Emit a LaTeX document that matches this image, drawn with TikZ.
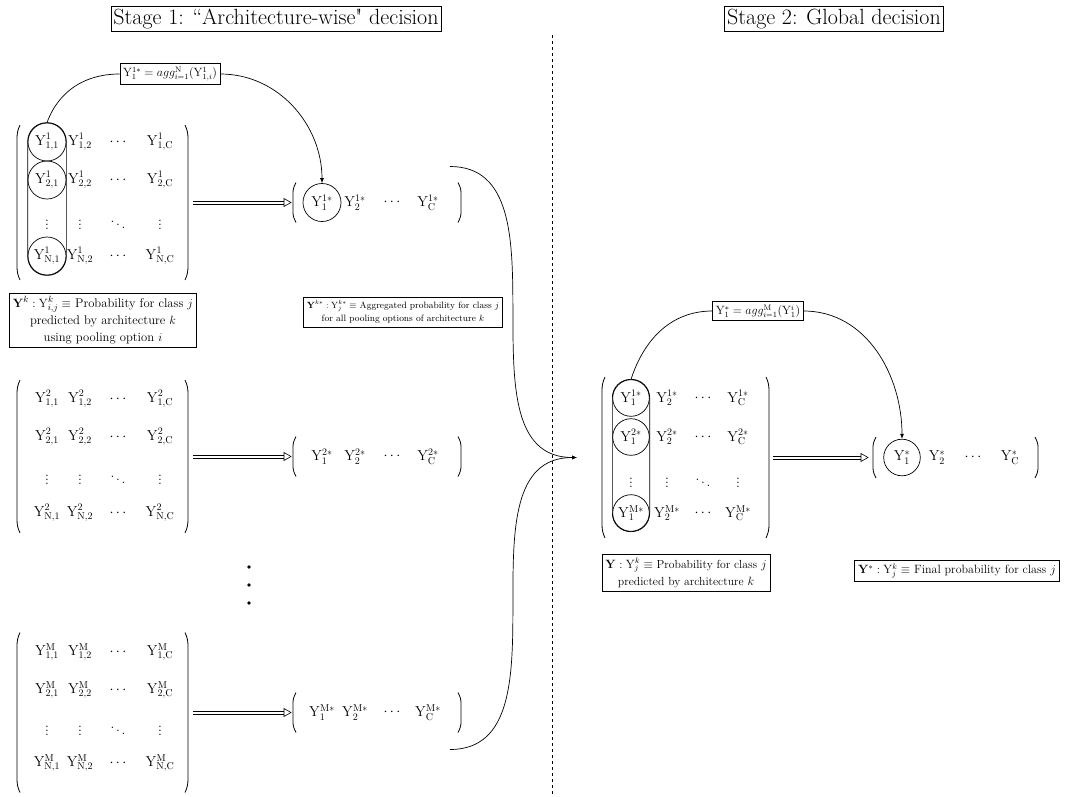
\documentclass[tikz,border=0pt]{standalone}
\usetikzlibrary{arrows.meta,calc}
\newcommand\Ym{\mathrm{Y}}
\tikzset{
  ent/.style={inner sep=0pt, font=\fontsize{14}{16}\selectfont},
  circ/.style={circle, draw, line width=0.7pt, minimum size=38pt, inner sep=0pt},
  plain/.style={},
  paren/.style={line width=0.8pt},
  capsule/.style={line width=0.7pt, rounded corners=18.9pt},
  title/.style={draw, line width=0.7pt, inner sep=2.5pt, font=\fontsize{22}{24}\selectfont},
  desc/.style={draw, line width=0.7pt, align=center, inner sep=3.5pt},
  agg/.style={draw, line width=0.7pt, fill=white, inner sep=3pt, font=\fontsize{12}{14}\selectfont},
  conn/.style={line width=0.7pt},
  tip/.style={-{Latex[length=5pt,width=4pt]}},
  dblline/.style={line width=0.6pt},
  dbltip/.style={line width=0.6pt, line join=miter, fill=white},
  dotn/.style={circle, fill, inner sep=0pt, minimum size=3.6pt},
}
% frame corners: #1 name, #2 cx, #3 cy (down), #4 w, #5 h
\newcommand\frm[5]{%
  \coordinate (#1-nw) at ({#2-#4/2},{-#3+#5/2});
  \coordinate (#1-ne) at ({#2+#4/2},{-#3+#5/2});
  \coordinate (#1-sw) at ({#2-#4/2},{-#3-#5/2});
  \coordinate (#1-se) at ({#2+#4/2},{-#3-#5/2});
  \coordinate (#1-w) at ({#2-#4/2},{-#3});
  \coordinate (#1-e) at ({#2+#4/2},{-#3});}
% parentheses around a frame
\newcommand\brk[2]{%
  \draw[paren] ($(#1-nw)+(3,0)$) to[out=-115,in=90] ($(#1-nw)+(0,-#2)$)
     -- ($(#1-sw)+(0,#2)$) to[out=-90,in=115] ($(#1-sw)+(3,0)$);
  \draw[paren] ($(#1-ne)+(-3,0)$) to[out=-65,in=90] ($(#1-ne)+(0,-#2)$)
     -- ($(#1-se)+(0,#2)$) to[out=-90,in=65] ($(#1-se)+(-3,0)$);}
% double arrow with open triangular head: #1 start, #2 tip
\newcommand\dblarrow[2]{%
  \draw[dblline] ($(#1)+(0,1.4)$) -- ($(#2)+(-7,1.4)$);
  \draw[dblline] ($(#1)+(0,-1.4)$) -- ($(#2)+(-7,-1.4)$);
  \draw[dbltip] ($(#2)+(-7,4)$) -- (#2) -- ($(#2)+(-7,-4)$) -- cycle;}
% stage-1 matrix entries: #1 name, #2 superscript, #3..#6 row ys, #7 style of column 1
\newcommand\matrows[7]{%
  \foreach \r/\yy/\rl in {1/#3/1,2/#4/2,4/#6/\mathrm{N}} {
    \node[ent, #7] (#1-\r-1) at (47,-\yy) {$\Ym^{#2}_{\rl,1}$};
    \node[ent] (#1-\r-2) at (80,-\yy) {$\Ym^{#2}_{\rl,2}$};
    \node[ent] (#1-\r-3) at (118,-\yy) {$\cdots$};
    \node[ent] (#1-\r-4) at (160,-\yy) {$\Ym^{#2}_{\rl,\mathrm{C}}$};
  }
  \node[ent] (#1-3-1) at (47,-#5) {$\vdots$};
  \node[ent] (#1-3-2) at (80,-#5) {$\vdots$};
  \node[ent] (#1-3-3) at (118,-#5) {$\ddots$};
  \node[ent] (#1-3-4) at (160,-#5) {$\vdots$};
}
% vector entries: #1 name, #2 superscript, #3 y, #4..#7 xs, #8 style of first entry
\newcommand\vecrow[8]{%
  \node[ent, #8] (#1-1) at (#4,-#3) {$\Ym^{#2}_{1}$};
  \node[ent] (#1-2) at (#5,-#3) {$\Ym^{#2}_{2}$};
  \node[ent] (#1-3) at (#6,-#3) {$\cdots$};
  \node[ent] (#1-4) at (#7,-#3) {$\Ym^{#2}_{\mathrm{C}}$};
}
\begin{document}
\begin{tikzpicture}[x=1pt,y=1pt]
\useasboundingbox (0,0) rectangle (1069,-796);

% titles and separator
\node[title] (t1) at (276,-19) {Stage 1: ``Architecture-wise\textquotedbl{} decision};
\node[title] (t2) at (834,-19) {Stage 2: Global decision};
\coordinate (sepT) at (552,-35);
\coordinate (sepB) at (552,-796);
\draw[dashed, line width=0.6pt] (sepT) -- (sepB);

% ---------- architecture 1 ----------
\frm{M1}{102.5}{202.5}{171}{155}
\brk{M1}{14}
\matrows{m1}{1}{142}{180}{222}{256}{circ}
\draw[capsule] (m1-1-1.west |- m1-1-1.north) rectangle (m1-4-1.east |- m1-4-1.south);

\frm{V1}{377}{202.5}{168}{40}
\brk{V1}{10}
\vecrow{v1}{1*}{202.5}{322}{355}{392}{428}{circ}
\coordinate (A1s) at ($(M1-e)+(5,0)$);
\coordinate (A1t) at ($(V1-w)+(-2,0)$);
\dblarrow{A1s}{A1t}

\node[agg] (a1) at (170,-74) {$\Ym^{1*}_1 = agg^{\mathrm{N}}_{i=1}(\Ym^1_{1,i})$};
\draw[conn] (m1-1-1.north) to[out=70,in=180] (a1.west);
\draw[conn, tip] (a1.east) to[out=0,in=90] (v1-1.north);

\node[desc, font=\fontsize{12.6}{17}\selectfont] (d1) at (103,-320) {$\mathbf{Y}^k : \Ym^k_{i,j} \equiv$ Probability for class $j$\\predicted by architecture $k$\\using pooling option $i$};
\node[desc, font=\fontsize{9.2}{13}\selectfont] (d2) at (403,-312) {$\mathbf{Y}^{k*} : \Ym^{k*}_j \equiv$ Aggregated probability for class $j$\\for all pooling options of architecture $k$};

% ---------- architecture 2 ----------
\frm{M2}{102.5}{456.5}{171}{153}
\brk{M2}{14}
\matrows{m2}{2}{399}{437}{477}{513}{plain}
\frm{V2}{377}{456.5}{168}{40}
\brk{V2}{10}
\vecrow{v2}{2*}{456.5}{322}{355}{392}{428}{plain}
\coordinate (A2s) at ($(M2-e)+(5,0)$);
\coordinate (A2t) at ($(V2-w)+(-2,0)$);
\dblarrow{A2s}{A2t}

% ellipsis dots
\node[dotn] (dot1) at (249,-567) {};
\node[dotn] (dot2) at (249,-585) {};
\node[dotn] (dot3) at (249,-603) {};

% ---------- architecture M ----------
\frm{MM}{102.5}{712.5}{171}{160}
\brk{MM}{14}
\matrows{mM}{\mathrm{M}}{652}{690}{728}{763}{plain}
\frm{VM}{377}{712.5}{168}{40}
\brk{VM}{10}
\vecrow{vM}{\mathrm{M}*}{712.5}{322}{355}{392}{428}{plain}
\coordinate (AMs) at ($(MM-e)+(5,0)$);
\coordinate (AMt) at ($(VM-w)+(-2,0)$);
\dblarrow{AMs}{AMt}

% ---------- stage 2 ----------
\frm{G}{685.5}{457.5}{167}{161}
\brk{G}{14}
\foreach \r/\yy/\rs in {1/398/1,2/437/2,4/513/\mathrm{M}} {
  \node[ent, circ, minimum size=36.6pt] (g-\r-1) at (631,-\yy) {$\Ym^{\rs*}_{1}$};
  \node[ent] (g-\r-2) at (667,-\yy) {$\Ym^{\rs*}_{2}$};
  \node[ent] (g-\r-3) at (703,-\yy) {$\cdots$};
  \node[ent] (g-\r-4) at (738,-\yy) {$\Ym^{\rs*}_{\mathrm{C}}$};
}
\node[ent] (g-3-1) at (631,-480) {$\vdots$};
\node[ent] (g-3-2) at (667,-480) {$\vdots$};
\node[ent] (g-3-3) at (703,-480) {$\ddots$};
\node[ent] (g-3-4) at (738,-480) {$\vdots$};
\draw[capsule, rounded corners=18.2pt] (g-1-1.west |- g-1-1.north) rectangle (g-4-1.east |- g-4-1.south);

\frm{Fv}{955.5}{457.5}{165}{41}
\brk{Fv}{10}
\vecrow{f}{*}{457.5}{902}{937}{973}{1010}{circ, minimum size=36.6pt}
\coordinate (AGs) at ($(G-e)+(4,0)$);
\coordinate (AGt) at ($(Fv-w)+(-5,0)$);
\dblarrow{AGs}{AGt}

\node[agg] (a2) at (758,-311) {$\Ym^{*}_1 = agg^{\mathrm{M}}_{i=1}(\Ym^i_{1})$};
\draw[conn] (g-1-1.north) to[out=72,in=180] (a2.west);
\draw[conn, tip] (a2.east) to[out=0,in=90] (f-1.north);

% merging curves
\coordinate (v1o) at ($(V1-ne)+(-11,16)$);
\coordinate (vMo) at ($(VM-se)+(-11,-17)$);
\coordinate (jn) at ($(G-w)+(-25,0)$);
\draw[conn, tip] (v1o) to[out=0,in=180] (jn);
\draw[conn, tip] (vMo) to[out=0,in=180] (jn);

\node[desc, font=\fontsize{11.7}{17.5}\selectfont] (d3) at (686,-573) {$\mathbf{Y} : \Ym^k_j \equiv$ Probability for class $j$\\predicted by architecture $k$};
\node[desc, font=\fontsize{12}{14}\selectfont] (d4) at (957,-571) {$\mathbf{Y}^{*} : \Ym^k_j \equiv$ Final probability for class $j$};
\end{tikzpicture}
\end{document}
